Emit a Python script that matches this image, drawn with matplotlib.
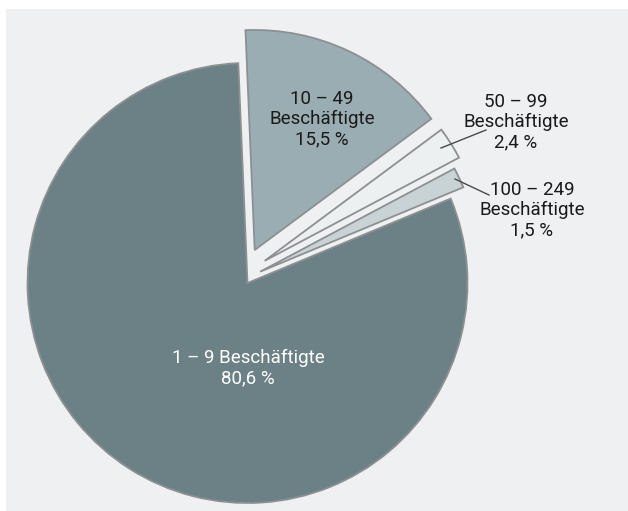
import matplotlib
matplotlib.use('Agg')
import matplotlib.pyplot as plt
from matplotlib.patches import Rectangle

# Anteile der Unternehmen nach Beschäftigtengrößenklassen
groups = ['1 – 9', '100 – 249', '50 – 99', '10 – 49']
shares = [80.6, 1.5, 2.4, 15.5]
share_labels = ['80,6 %', '1,5 %', '2,4 %', '15,5 %']
colors = ['#6b8186', '#c9d3d6', '#edf0f1', '#9aadb2']
# Verschiebung der herausgezogenen Segmente (Pixel, x / y)
shift = [(0, 0), (12.6, 11.3), (17.2, 22.2), (7.2, 33)]

plt.rcParams['font.family'] = ['Roboto', 'DejaVu Sans']

W, H = 628, 511
fig = plt.figure(figsize=(W / 100, H / 100), dpi=100)
fig.patch.set_facecolor('white')
ax = fig.add_axes([0, 0, 1, 1])

# grauer Hintergrund
ax.add_patch(Rectangle((6, 0), W - 6, H - 9, facecolor='#eff0f2', edgecolor='none', zorder=0))

cx, cy = 247.5, H - 283
wedges, _ = ax.pie(shares, colors=colors, startangle=92.4, counterclock=True,
                   radius=220, center=(cx, cy),
                   wedgeprops=dict(edgecolor='#8c9092', linewidth=1.3, zorder=2))
for w, (dx, dy) in zip(wedges, shift):
    w.set_center((cx + dx, cy + dy))

ax.set_xlim(0, W)
ax.set_ylim(0, H)
ax.set_aspect('equal')
ax.axis('off')

fs = 13.5
txt = '#1a1a1a'
kw = dict(ha='center', va='center', fontsize=fs, linespacing=1.15, zorder=5)
ax.text(248, H - 368, f'{groups[0]} Beschäftigte\n{share_labels[0]}', color='white', **kw)
ax.text(322, H - 119, f'{groups[3]}\nBeschäftigte\n{share_labels[3]}', color=txt, **kw)
ax.text(516, H - 122, f'{groups[2]}\nBeschäftigte\n{share_labels[2]}', color=txt, **kw)
ax.text(532, H - 210, f'{groups[1]}\nBeschäftigte\n{share_labels[1]}', color=txt, **kw)

# Hinweislinien
ax.plot([441, 486], [H - 148, H - 130], color='#4a4a4a', lw=1, zorder=4)
ax.plot([455, 489], [H - 179, H - 195], color='#4a4a4a', lw=1, zorder=4)

fig.savefig('out.png', dpi=100, facecolor=fig.get_facecolor())
